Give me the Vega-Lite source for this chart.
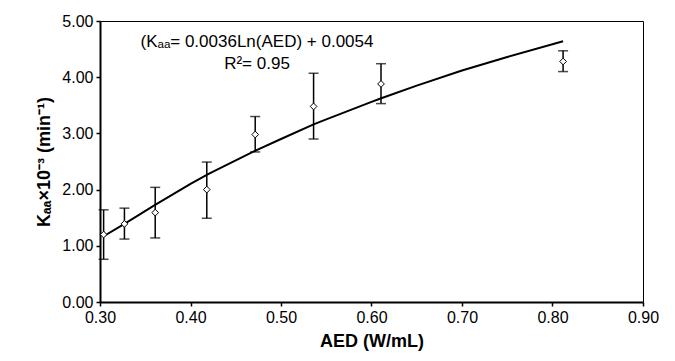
{
  "$schema": "https://vega.github.io/schema/vega-lite/v6.json",
  "autosize": "none",
  "width": 543,
  "height": 281,
  "padding": {"left": 100, "top": 21, "right": 32, "bottom": 59},
  "background": "white",
  "config": {
    "font": "Liberation Sans",
    "view": {"stroke": "#000", "strokeWidth": 1},
    "axis": {
      "grid": false,
      "labelFlush": false,
      "labelOverlap": false,
      "domainColor": "#000",
      "domainWidth": 2,
      "tickColor": "#000",
      "tickWidth": 1.5,
      "tickSize": 4,
      "labelColor": "#000",
      "labelFontSize": 16,
      "labelFont": "Liberation Sans",
      "titleColor": "#000",
      "titleFontSize": 18,
      "titleFont": "Liberation Sans",
      "titleFontWeight": "bold"
    }
  },
  "datasets": {
    "pts": [
      {"aed": 0.304, "k": 1.2, "lo": 0.76, "hi": 1.64},
      {"aed": 0.327, "k": 1.39, "lo": 1.12, "hi": 1.67},
      {"aed": 0.361, "k": 1.59, "lo": 1.14, "hi": 2.04},
      {"aed": 0.418, "k": 2.0, "lo": 1.49, "hi": 2.49},
      {"aed": 0.4715, "k": 2.98, "lo": 2.67, "hi": 3.3},
      {"aed": 0.536, "k": 3.48, "lo": 2.9, "hi": 4.07},
      {"aed": 0.6105, "k": 3.88, "lo": 3.53, "hi": 4.24},
      {"aed": 0.8117, "k": 4.28, "lo": 4.1, "hi": 4.47}
    ],
    "fit": [
      {"aed": 0.304, "k": 1.17},
      {"aed": 0.327, "k": 1.39},
      {"aed": 0.36, "k": 1.72},
      {"aed": 0.40, "k": 2.10},
      {"aed": 0.42, "k": 2.28},
      {"aed": 0.45, "k": 2.52},
      {"aed": 0.47, "k": 2.68},
      {"aed": 0.50, "k": 2.90},
      {"aed": 0.536, "k": 3.16},
      {"aed": 0.55, "k": 3.25},
      {"aed": 0.60, "k": 3.56},
      {"aed": 0.61, "k": 3.62},
      {"aed": 0.65, "k": 3.85},
      {"aed": 0.70, "k": 4.12},
      {"aed": 0.75, "k": 4.36},
      {"aed": 0.8117, "k": 4.64}
    ],
    "notes": [
      {"aed": 0.4735, "k": 4.62, "label": "(Kₐₐ= 0.0036Ln(AED) + 0.0054"},
      {"aed": 0.4735, "k": 4.24, "label": "R²= 0.95"}
    ]
  },
  "layer": [
    {
      "data": {"name": "fit"},
      "mark": {"type": "line", "color": "#000", "strokeWidth": 2},
      "encoding": {
        "x": {"field": "aed", "type": "quantitative",
              "scale": {"domain": [0.3, 0.9], "nice": false, "zero": false},
              "axis": {"values": [0.3, 0.4, 0.5, 0.6, 0.7, 0.8, 0.9], "format": ".2f", "title": "AED (W/mL)", "titlePadding": 7, "labelPadding": 3}},
        "y": {"field": "k", "type": "quantitative",
              "scale": {"domain": [0, 5], "nice": false},
              "axis": {"values": [0, 0.5, 1, 1.5, 2, 2.5, 3, 3.5, 4, 4.5, 5], "format": ".2f", "title": "Kₐₐ×10⁻³ (min⁻¹)", "titlePadding": 8, "labelPadding": 3}}
      }
    },
    {
      "data": {"name": "pts"},
      "mark": {"type": "rule", "color": "#000", "strokeWidth": 1.5},
      "encoding": {
        "x": {"field": "aed", "type": "quantitative"},
        "y": {"field": "lo", "type": "quantitative"},
        "y2": {"field": "hi"}
      }
    },
    {
      "data": {"name": "pts"},
      "mark": {"type": "tick", "color": "#000", "orient": "horizontal", "size": 10, "thickness": 1.5},
      "encoding": {
        "x": {"field": "aed", "type": "quantitative"},
        "y": {"field": "lo", "type": "quantitative"}
      }
    },
    {
      "data": {"name": "pts"},
      "mark": {"type": "tick", "color": "#000", "orient": "horizontal", "size": 10, "thickness": 1.5},
      "encoding": {
        "x": {"field": "aed", "type": "quantitative"},
        "y": {"field": "hi", "type": "quantitative"}
      }
    },
    {
      "data": {"name": "pts"},
      "mark": {"type": "point", "shape": "diamond", "filled": true, "fill": "white", "stroke": "#000", "strokeWidth": 1, "size": 45, "opacity": 1},
      "encoding": {
        "x": {"field": "aed", "type": "quantitative"},
        "y": {"field": "k", "type": "quantitative"}
      }
    },
    {
      "data": {"name": "notes"},
      "mark": {"type": "text", "fontSize": 17, "color": "#000", "align": "center", "baseline": "middle"},
      "encoding": {
        "x": {"field": "aed", "type": "quantitative"},
        "y": {"field": "k", "type": "quantitative"},
        "text": {"field": "label"}
      }
    }
  ]
}
